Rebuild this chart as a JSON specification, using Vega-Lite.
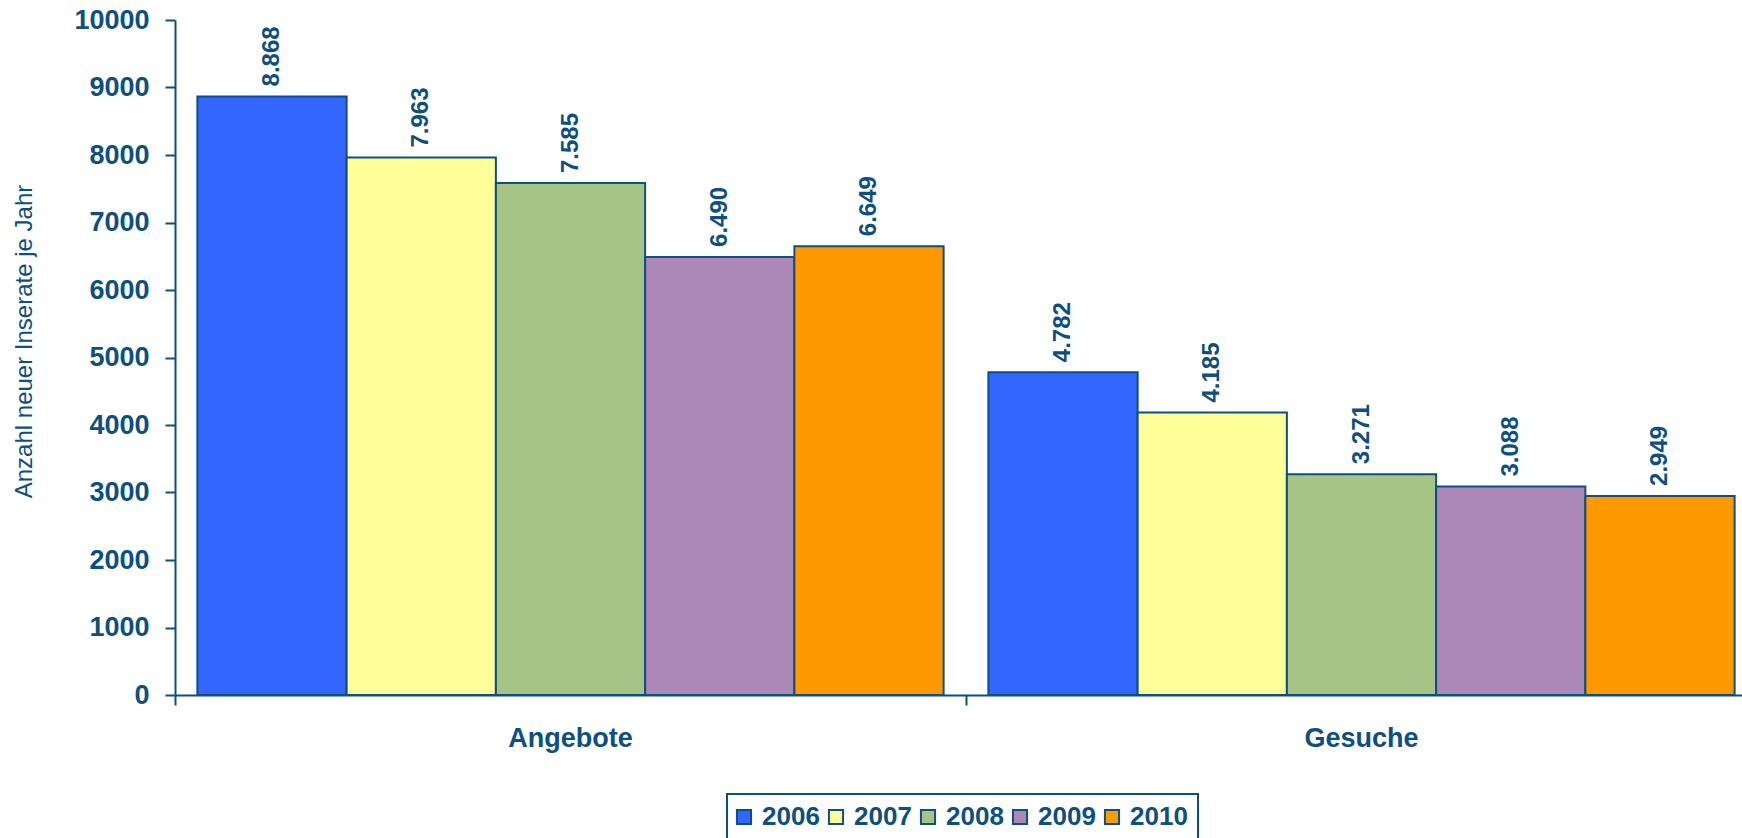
{
  "$schema": "https://vega.github.io/schema/vega-lite/v6.json",
  "width": 1567,
  "height": 675,
  "autosize": {"type": "none"},
  "padding": {"left": 175, "top": 20, "right": 0, "bottom": 143},
  "background": "white",
  "config": {
    "view": {"stroke": null},
    "font": "Liberation Sans"
  },
  "data": {
    "values": [
      {"Kategorie": "Angebote", "Jahr": "2006", "Anzahl": 8868},
      {"Kategorie": "Angebote", "Jahr": "2007", "Anzahl": 7963},
      {"Kategorie": "Angebote", "Jahr": "2008", "Anzahl": 7585},
      {"Kategorie": "Angebote", "Jahr": "2009", "Anzahl": 6490},
      {"Kategorie": "Angebote", "Jahr": "2010", "Anzahl": 6649},
      {"Kategorie": "Gesuche", "Jahr": "2006", "Anzahl": 4782},
      {"Kategorie": "Gesuche", "Jahr": "2007", "Anzahl": 4185},
      {"Kategorie": "Gesuche", "Jahr": "2008", "Anzahl": 3271},
      {"Kategorie": "Gesuche", "Jahr": "2009", "Anzahl": 3088},
      {"Kategorie": "Gesuche", "Jahr": "2010", "Anzahl": 2949}
    ]
  },
  "encoding": {
    "x": {
      "field": "Kategorie",
      "type": "nominal",
      "sort": ["Angebote", "Gesuche"],
      "scale": {"range": [0, 1582], "paddingInner": 0, "paddingOuter": 0},
      "axis": {
        "title": null,
        "labelAngle": 0,
        "bandPosition": 0,
        "labelFont": "Liberation Sans",
        "labelFontSize": 27,
        "labelFontWeight": "bold",
        "labelColor": "#0D4F80",
        "labelPadding": 20,
        "tickColor": "#0D4F80",
        "tickWidth": 2,
        "tickSize": 10,
        "domainColor": "#0D4F80",
        "domainWidth": 2
      }
    },
    "xOffset": {
      "field": "Jahr",
      "type": "nominal",
      "scale": {"range": [0, 791], "paddingInner": 0, "paddingOuter": 0.15}
    }
  },
  "layer": [
    {
      "mark": {"type": "bar", "stroke": "#0D4F80", "strokeWidth": 2},
      "encoding": {
        "y": {
          "field": "Anzahl",
          "type": "quantitative",
          "scale": {"domain": [0, 10000], "nice": false},
          "axis": {
            "title": "Anzahl neuer Inserate je Jahr",
            "titleFont": "Liberation Sans",
            "titleFontSize": 24,
            "titleFontWeight": "normal",
            "titleColor": "#0D4F80",
            "titlePadding": 37,
            "titleY": 321,
            "values": [0, 1000, 2000, 3000, 4000, 5000, 6000, 7000, 8000, 9000, 10000],
            "format": "d",
            "grid": false,
            "labelFont": "Liberation Sans",
            "labelFontSize": 27,
            "labelFontWeight": "bold",
            "labelColor": "#0D4F80",
            "labelPadding": 16,
            "tickColor": "#0D4F80",
            "tickWidth": 2,
            "tickSize": 10,
            "domainColor": "#0D4F80",
            "domainWidth": 2
          }
        },
        "color": {
          "field": "Jahr",
          "type": "nominal",
          "scale": {
            "domain": ["2006", "2007", "2008", "2009", "2010"],
            "range": ["#3366FF", "#FFFF99", "#A5C486", "#AC88B7", "#FF9900"]
          },
          "legend": {
            "title": null,
            "orient": "none",
            "direction": "horizontal",
            "legendX": 552,
            "legendY": 774,
            "symbolType": "square",
            "symbolSize": 200,
            "symbolOffset": -6,
            "symbolStrokeColor": "#0D4F80",
            "symbolStrokeWidth": 2,
            "labelFont": "Liberation Sans",
            "labelFontSize": 26,
            "labelFontWeight": "bold",
            "labelColor": "#0D4F80",
            "labelOffset": 5,
            "columnPadding": 4,
            "strokeColor": "#0D4F80",
            "padding": 10,
            "encode": {"legend": {"update": {"strokeWidth": {"value": 2}}}}
          }
        }
      }
    },
    {
      "mark": {
        "type": "text",
        "angle": 270,
        "align": "left",
        "baseline": "middle",
        "dx": 10,
        "font": "Liberation Sans",
        "fontWeight": "bold",
        "fontSize": 24,
        "color": "#0D4F80",
        "text": {"expr": "replace(format(datum.Anzahl, ','), ',', '.')"}
      },
      "encoding": {
        "y": {"field": "Anzahl", "type": "quantitative"}
      }
    }
  ]
}
